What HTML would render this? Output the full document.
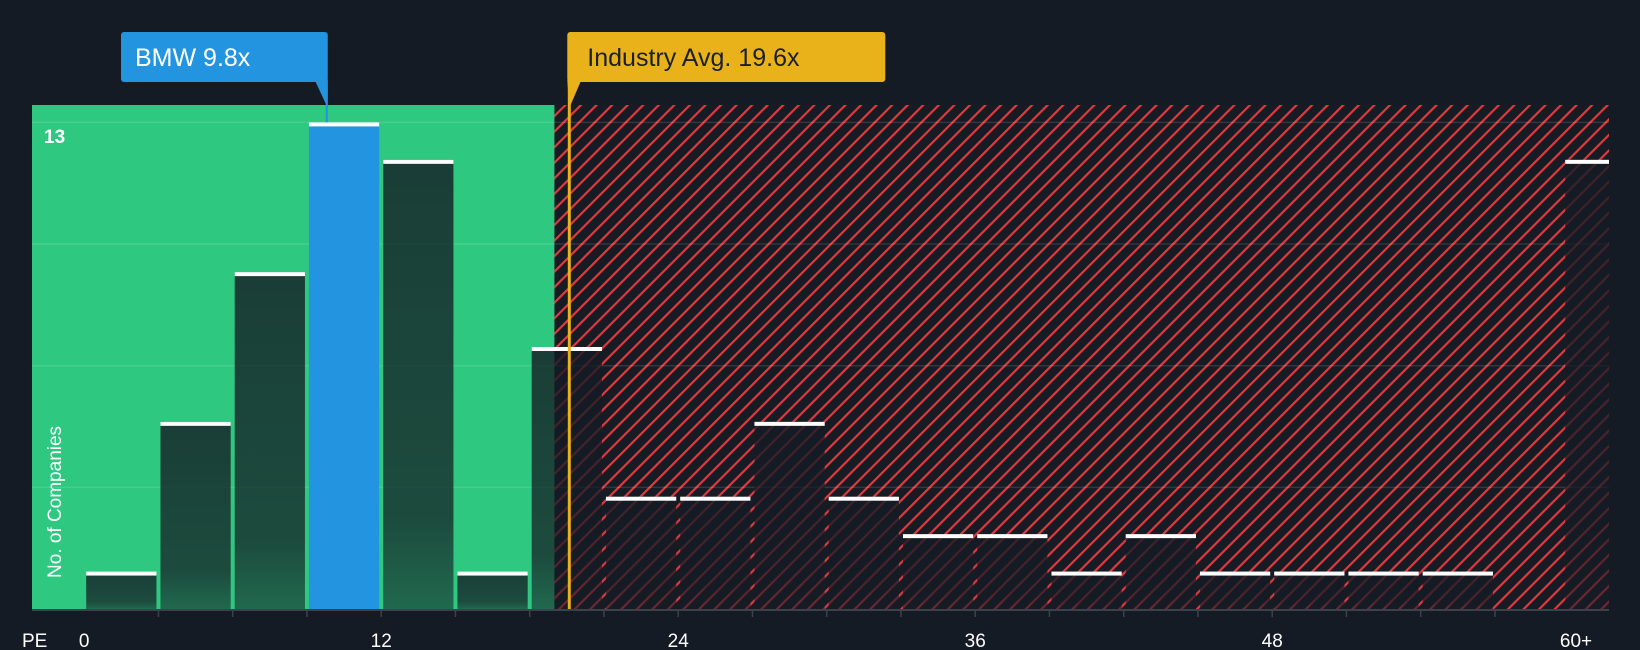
<!DOCTYPE html>
<html><head><meta charset="utf-8">
<style>
html,body{margin:0;padding:0;background:#151b24;}
svg{display:block;font-family:"Liberation Sans",sans-serif;}
</style></head>
<body>
<svg id="chart" width="1640" height="650" viewBox="0 0 1640 650">
<defs>
<pattern id="hatch" patternUnits="userSpaceOnUse" width="11" height="11" patternTransform="rotate(45)">
<rect width="11" height="11" fill="#161b24"/>
<rect x="0" y="0" width="2.2" height="11" fill="#e0393e"/>
</pattern>
<linearGradient id="barg" x1="0" y1="0" x2="0" y2="1">
<stop offset="0" stop-color="#151b24" stop-opacity="0.8"/>
<stop offset="0.8" stop-color="#151b24" stop-opacity="0.72"/>
<stop offset="1" stop-color="#151b24" stop-opacity="0.55"/>
</linearGradient>
</defs>
<g id="bg"></g>
<g id="grid"></g>
<g id="bars"></g>
<g id="axis"></g>
<g id="ann"></g>
</svg>
<script>
const binStarts = [0,3,6,9,12,15,18,21,24,27,30,33,36,39,42,45,48,51,54,57];
const counts = [1,5,9,13,12,1,7,3,3,5,3,2,2,1,2,1,1,1,1,0];
const overflowCount = 12;
const xTicks = [0,12,24,36,48];
const yGrid = [3.25,6.5,9.75,13];
const bmwValue = 9.8;
const industryAvg = 19.6;
const greenEnd = 19.0;

const NS = "http://www.w3.org/2000/svg";
const X0 = 84.2, UX = 24.75, Y0 = 609, UY = 37.43;
const PL = 32, PR = 1609, PT = 105;
const xs = v => X0 + v * UX;
const ys = v => Y0 - v * UY;
function el(tag, attrs, parent, text){
  const e = document.createElementNS(NS, tag);
  for (const k in attrs) e.setAttribute(k, attrs[k]);
  if (text !== undefined) e.textContent = text;
  parent.appendChild(e);
  return e;
}
const bg = document.getElementById('bg');
const gx = xs(greenEnd);
let r = el('rect',{x:PL,y:PT,width:gx-PL,height:Y0-PT,fill:'#2ec880'},bg);


r = el('rect',{x:gx,y:PT,width:PR-gx,height:Y0-PT,fill:'url(#hatch)'},bg);



const grid = document.getElementById('grid');
yGrid.forEach(v=>{
  const l = el('line',{x1:PL,x2:PR,y1:ys(v),y2:ys(v),stroke:'#ffffff','stroke-opacity':0.12,'stroke-width':1.5},grid);
  
  
});

const bars = document.getElementById('bars');
const bmwBin = binStarts.findIndex(s => bmwValue >= s && bmwValue < s+3);
counts.forEach((c,i)=>{
  if (c <= 0) return;
  const x = xs(binStarts[i]) + 2, w = 3*UX - 4, y = ys(c);
  const b = el('rect',{x:x,y:y,width:w,height:Y0-y,fill: i===bmwBin ? '#2394e0' : 'url(#barg)'},bars);
  
  
  const t = el('rect',{x:x,y:y,width:w,height:4,fill:'#ffffff'},bars);
  
  
});
{
  const x = xs(60) - 4, w = PR - x, y = ys(overflowCount);
  const b = el('rect',{x:x,y:y,width:w,height:Y0-y,fill:'url(#barg)'},bars);
  
  
  const t = el('rect',{x:x,y:y,width:w,height:4,fill:'#ffffff'},bars);
  
  
}

const axis = document.getElementById('axis');
let a = el('line',{x1:PL,x2:PR,y1:Y0+1,y2:Y0+1,stroke:'#3c424b','stroke-width':2},axis);


for (let v=3; v<60; v+=3){
  const tk = el('line',{x1:xs(v),x2:xs(v),y1:Y0,y2:Y0+8,stroke:'#3c424b','stroke-width':1.5},axis);
  
  
}
xTicks.forEach(v=>{
  const t = el('text',{x:xs(v),y:647,fill:'#ffffff','font-size':19,'text-anchor':'middle'},axis,String(v));
  
  
});
let t = el('text',{x:1576,y:647,fill:'#ffffff','font-size':19,'text-anchor':'middle'},axis,'60+');


t = el('text',{x:22,y:647,fill:'#ffffff','font-size':19},axis,'PE');


t = el('text',{x:44,y:143,fill:'#ffffff','font-size':19,'font-weight':'bold'},axis,'13');


t = el('text',{x:61,y:502,fill:'#ffffff','font-size':19,'text-anchor':'middle',transform:'rotate(-90 61 502)'},axis,'No. of Companies');



const ann = document.getElementById('ann');
const ix = xs(industryAvg);
let l = el('rect',{x:ix-1.5,y:80,width:3,height:Y0-80,fill:'#eab21a'},ann);


let p = el('path',{d:`M${ix-2} 80 L${ix+12} 80 L${ix} 108 Z`,fill:'#eab21a'},ann);


let bx = el('rect',{x:ix-2,y:32,width:318,height:50,rx:3,fill:'#eab21a'},ann);


t = el('text',{x:ix+18,y:66,fill:'#1a1f28','font-size':25},ann,'Industry Avg. '+industryAvg+'x');



const bxx = xs(bmwValue);
l = el('rect',{x:bxx-1,y:80,width:2,height:ys(13)-80,fill:'#2394e0'},ann);


p = el('path',{d:`M${bxx-12} 80 L${bxx+1} 80 L${bxx+1} 108 Z`,fill:'#2394e0'},ann);


bx = el('rect',{x:121,y:32,width:bxx+1-121,height:50,rx:3,fill:'#2394e0'},ann);


t = el('text',{x:135,y:66,fill:'#ffffff','font-size':25},ann,'BMW '+bmwValue+'x');


</script>
</body></html>
